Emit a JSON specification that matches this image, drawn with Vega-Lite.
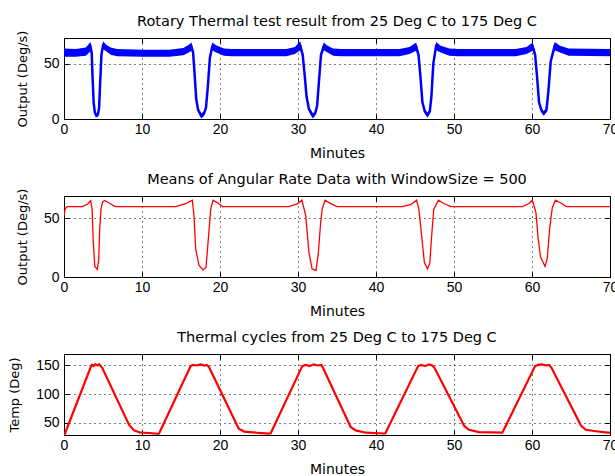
{
  "$schema": "https://vega.github.io/schema/vega-lite/v6.json",
  "background": "white",
  "padding": {"left": 8, "top": 13, "right": 0, "bottom": 0},
  "spacing": 77,
  "bounds": "flush",
  "datasets": {
    "rate": [
      {"t": 0, "v": 60, "lo": 56, "hi": 63.5},
      {"t": 1.5, "v": 60, "lo": 56, "hi": 63},
      {"t": 2.8, "v": 61, "lo": 57, "hi": 64.5},
      {"t": 3.4, "v": 65, "lo": 61, "hi": 69.5},
      {"t": 3.55, "v": 60, "lo": 57, "hi": 63},
      {"t": 3.65, "v": 40, "lo": 38, "hi": 42},
      {"t": 3.8, "v": 15, "lo": 13, "hi": 17},
      {"t": 3.95, "v": 6, "lo": 4, "hi": 8},
      {"t": 4.15, "v": 3, "lo": 1.5, "hi": 5},
      {"t": 4.35, "v": 4, "lo": 2, "hi": 6},
      {"t": 4.5, "v": 10, "lo": 8, "hi": 12},
      {"t": 4.65, "v": 35, "lo": 33, "hi": 37},
      {"t": 4.8, "v": 58, "lo": 56, "hi": 60},
      {"t": 5.0, "v": 66, "lo": 63, "hi": 70},
      {"t": 5.4, "v": 64, "lo": 61, "hi": 67},
      {"t": 6.0, "v": 61, "lo": 58, "hi": 64.5},
      {"t": 6.8, "v": 60, "lo": 56.5, "hi": 63},
      {"t": 10, "v": 59.5, "lo": 56, "hi": 62.5},
      {"t": 13.5, "v": 59.5, "lo": 56, "hi": 62.5},
      {"t": 15.3, "v": 61, "lo": 57.5, "hi": 64},
      {"t": 16.0, "v": 63.5, "lo": 60, "hi": 67},
      {"t": 16.35, "v": 65, "lo": 61.5, "hi": 69},
      {"t": 16.55, "v": 60, "lo": 57, "hi": 62},
      {"t": 16.75, "v": 40, "lo": 38, "hi": 42},
      {"t": 16.95, "v": 18, "lo": 16, "hi": 20},
      {"t": 17.2, "v": 8, "lo": 6, "hi": 10},
      {"t": 17.6, "v": 3, "lo": 0.5, "hi": 5},
      {"t": 17.95, "v": 5, "lo": 3, "hi": 7},
      {"t": 18.2, "v": 10, "lo": 8, "hi": 12},
      {"t": 18.45, "v": 30, "lo": 28, "hi": 32},
      {"t": 18.7, "v": 55, "lo": 53, "hi": 57},
      {"t": 19.0, "v": 65, "lo": 62, "hi": 69},
      {"t": 19.5, "v": 63.5, "lo": 60, "hi": 66.5},
      {"t": 20.5, "v": 60.5, "lo": 57, "hi": 63.5},
      {"t": 21.5, "v": 60, "lo": 56.5, "hi": 63},
      {"t": 28.5, "v": 60, "lo": 56.5, "hi": 63},
      {"t": 29.6, "v": 62, "lo": 58.5, "hi": 65},
      {"t": 30.3, "v": 65.5, "lo": 62, "hi": 70},
      {"t": 30.6, "v": 58, "lo": 55, "hi": 61},
      {"t": 30.85, "v": 40, "lo": 38, "hi": 42},
      {"t": 31.1, "v": 20, "lo": 18, "hi": 22},
      {"t": 31.4, "v": 9, "lo": 7, "hi": 11},
      {"t": 31.9, "v": 3, "lo": 0.5, "hi": 5},
      {"t": 32.2, "v": 5, "lo": 3, "hi": 7},
      {"t": 32.45, "v": 12, "lo": 10, "hi": 14},
      {"t": 32.7, "v": 35, "lo": 33, "hi": 37},
      {"t": 32.95, "v": 58, "lo": 56, "hi": 60},
      {"t": 33.3, "v": 65.5, "lo": 62, "hi": 69},
      {"t": 33.8, "v": 63, "lo": 60, "hi": 66},
      {"t": 34.5, "v": 60.5, "lo": 57, "hi": 63.5},
      {"t": 35.5, "v": 60, "lo": 56.5, "hi": 63},
      {"t": 43, "v": 60, "lo": 56.5, "hi": 63},
      {"t": 44.3, "v": 62, "lo": 58.5, "hi": 65},
      {"t": 45.15, "v": 65, "lo": 61.5, "hi": 69},
      {"t": 45.45, "v": 58, "lo": 55, "hi": 61},
      {"t": 45.7, "v": 38, "lo": 36, "hi": 40},
      {"t": 45.95, "v": 15, "lo": 13, "hi": 17},
      {"t": 46.25, "v": 7, "lo": 5, "hi": 9},
      {"t": 46.6, "v": 3.5, "lo": 1.5, "hi": 5.5},
      {"t": 46.9, "v": 7, "lo": 5, "hi": 9},
      {"t": 47.1, "v": 20, "lo": 18, "hi": 22},
      {"t": 47.35, "v": 50, "lo": 48, "hi": 52},
      {"t": 47.7, "v": 65.5, "lo": 62, "hi": 69.5},
      {"t": 48.3, "v": 63, "lo": 60, "hi": 66},
      {"t": 49.4, "v": 60.5, "lo": 57, "hi": 63.5},
      {"t": 50.5, "v": 60, "lo": 56.5, "hi": 63},
      {"t": 57.9, "v": 60, "lo": 56.5, "hi": 63},
      {"t": 59.3, "v": 62, "lo": 58.5, "hi": 65},
      {"t": 60.1, "v": 65, "lo": 61.5, "hi": 69},
      {"t": 60.4, "v": 58, "lo": 55, "hi": 61},
      {"t": 60.65, "v": 38, "lo": 36, "hi": 40},
      {"t": 60.9, "v": 15, "lo": 13, "hi": 17},
      {"t": 61.2, "v": 8, "lo": 6, "hi": 10},
      {"t": 61.5, "v": 5, "lo": 3, "hi": 7},
      {"t": 61.85, "v": 8, "lo": 6, "hi": 10},
      {"t": 62.1, "v": 25, "lo": 23, "hi": 27},
      {"t": 62.4, "v": 52, "lo": 50, "hi": 54},
      {"t": 62.9, "v": 65.5, "lo": 62, "hi": 69.5},
      {"t": 63.6, "v": 63, "lo": 60, "hi": 66},
      {"t": 64.7, "v": 60.5, "lo": 57, "hi": 63.5},
      {"t": 70, "v": 60, "lo": 56.5, "hi": 63}
    ],
    "means": [
      {"t": 0, "v": 52}, {"t": 0.15, "v": 58}, {"t": 0.43, "v": 60}, {"t": 2.35, "v": 60},
      {"t": 3.0, "v": 62}, {"t": 3.42, "v": 65}, {"t": 3.6, "v": 58}, {"t": 3.75, "v": 30},
      {"t": 3.95, "v": 9}, {"t": 4.27, "v": 6.5}, {"t": 4.45, "v": 15}, {"t": 4.57, "v": 40},
      {"t": 4.75, "v": 58}, {"t": 4.95, "v": 64}, {"t": 5.2, "v": 65.2}, {"t": 5.77, "v": 63},
      {"t": 6.6, "v": 60}, {"t": 14.3, "v": 60}, {"t": 15.6, "v": 62.5}, {"t": 16.45, "v": 65.4},
      {"t": 16.67, "v": 52}, {"t": 16.88, "v": 24}, {"t": 17.3, "v": 10}, {"t": 17.8, "v": 6},
      {"t": 18.2, "v": 8}, {"t": 18.5, "v": 32}, {"t": 18.8, "v": 57.5}, {"t": 19.1, "v": 65.4},
      {"t": 19.7, "v": 63.2}, {"t": 20.3, "v": 60}, {"t": 28.8, "v": 60}, {"t": 29.9, "v": 62.3},
      {"t": 30.5, "v": 65.4}, {"t": 31.0, "v": 52}, {"t": 31.4, "v": 21}, {"t": 31.8, "v": 7},
      {"t": 32.3, "v": 5.5}, {"t": 32.6, "v": 20}, {"t": 32.9, "v": 46}, {"t": 33.1, "v": 58},
      {"t": 33.46, "v": 65.4}, {"t": 34.2, "v": 62.5}, {"t": 35.0, "v": 60}, {"t": 43.4, "v": 60},
      {"t": 44.5, "v": 61.8}, {"t": 45.2, "v": 65.4}, {"t": 45.5, "v": 57.6}, {"t": 45.9, "v": 32},
      {"t": 46.2, "v": 12.6}, {"t": 46.6, "v": 7}, {"t": 46.9, "v": 12}, {"t": 47.1, "v": 32},
      {"t": 47.4, "v": 57.6}, {"t": 48.0, "v": 65.4}, {"t": 48.7, "v": 62.6}, {"t": 49.6, "v": 60},
      {"t": 58.8, "v": 60}, {"t": 59.6, "v": 62.6}, {"t": 60.05, "v": 65.4}, {"t": 60.5, "v": 55},
      {"t": 60.8, "v": 32}, {"t": 61.1, "v": 17}, {"t": 61.67, "v": 9}, {"t": 61.96, "v": 16},
      {"t": 62.26, "v": 41}, {"t": 62.6, "v": 59}, {"t": 63.0, "v": 65.4}, {"t": 63.7, "v": 63},
      {"t": 64.4, "v": 60}, {"t": 70, "v": 60}
    ],
    "temp": [
      {"t": 0, "v": 27}, {"t": 3.45, "v": 148}, {"t": 3.6, "v": 151}, {"t": 3.8, "v": 149},
      {"t": 4.0, "v": 152}, {"t": 4.3, "v": 150}, {"t": 4.5, "v": 152}, {"t": 4.7, "v": 149},
      {"t": 4.9, "v": 146}, {"t": 8.33, "v": 47}, {"t": 8.97, "v": 37}, {"t": 9.8, "v": 33},
      {"t": 10.9, "v": 32.5}, {"t": 12.1, "v": 31}, {"t": 12.2, "v": 32},
      {"t": 16.24, "v": 149}, {"t": 16.5, "v": 151}, {"t": 17, "v": 150}, {"t": 17.5, "v": 152},
      {"t": 18, "v": 150}, {"t": 18.3, "v": 151}, {"t": 18.6, "v": 147},
      {"t": 22.4, "v": 40}, {"t": 23.1, "v": 35}, {"t": 24.6, "v": 33}, {"t": 26.2, "v": 31.5},
      {"t": 26.5, "v": 32}, {"t": 30.55, "v": 149}, {"t": 31, "v": 151}, {"t": 31.5, "v": 149},
      {"t": 32, "v": 152}, {"t": 32.5, "v": 150}, {"t": 33, "v": 151}, {"t": 33.2, "v": 146},
      {"t": 36.75, "v": 43}, {"t": 37.4, "v": 37}, {"t": 38.7, "v": 33}, {"t": 41.0, "v": 31.6},
      {"t": 41.2, "v": 32}, {"t": 45.4, "v": 149}, {"t": 45.8, "v": 151}, {"t": 46.3, "v": 149},
      {"t": 46.8, "v": 152}, {"t": 47.2, "v": 150}, {"t": 47.5, "v": 146},
      {"t": 51.3, "v": 45}, {"t": 51.9, "v": 38}, {"t": 53.2, "v": 34}, {"t": 56.2, "v": 33},
      {"t": 60.4, "v": 149}, {"t": 60.8, "v": 151}, {"t": 61.3, "v": 152}, {"t": 61.8, "v": 150},
      {"t": 62.2, "v": 151}, {"t": 62.5, "v": 146}, {"t": 66.3, "v": 45}, {"t": 66.9, "v": 38},
      {"t": 68.2, "v": 35.5}, {"t": 69.7, "v": 33}, {"t": 70, "v": 33}
    ]
  },
  "vconcat": [
    {
      "width": 546, "height": 81,
      "title": {"text": "Rotary Thermal test result from 25 Deg C to 175 Deg C", "offset": 0.5},
      "data": {"name": "rate"},
      "resolve": {"axis": {"x": "independent", "y": "independent"}},
      "layer": [
        {
          "mark": {"type": "area", "color": "#0000FF", "clip": true},
          "encoding": {
            "x": {"field": "t", "type": "quantitative", "scale": {"domain": [0, 70], "nice": false, "zero": false}, "axis": {"title": "Minutes", "values": [0, 10, 20, 30, 40, 50, 60, 70]}},
            "y": {"field": "lo", "type": "quantitative", "scale": {"domain": [0, 73], "nice": false}, "axis": {"title": "Output (Deg/s)", "values": [0, 50]}},
            "y2": {"field": "hi"}
          }
        },
        {
          "mark": {"type": "line", "color": "#0000FF", "strokeWidth": 2.5, "clip": true},
          "encoding": {
            "x": {"field": "t", "type": "quantitative", "axis": null},
            "y": {"field": "v", "type": "quantitative", "axis": null}
          }
        },
        {
          "mark": {"type": "line", "opacity": 0},
          "encoding": {
            "x": {"field": "t", "type": "quantitative", "axis": {"orient": "top", "labels": false, "grid": false, "title": null, "values": [0, 10, 20, 30, 40, 50, 60, 70]}},
            "y": {"field": "v", "type": "quantitative", "axis": {"orient": "right", "labels": false, "grid": false, "title": null, "values": [0, 50]}}
          }
        }
      ]
    },
    {
      "width": 546, "height": 81,
      "title": {"text": "Means of Angular Rate Data with WindowSize = 500", "offset": 0.5},
      "data": {"name": "means"},
      "resolve": {"axis": {"x": "independent", "y": "independent"}},
      "layer": [
        {
          "mark": {"type": "line", "color": "#FF0000", "strokeWidth": 1.3, "clip": true},
          "encoding": {
            "x": {"field": "t", "type": "quantitative", "scale": {"domain": [0, 70], "nice": false, "zero": false}, "axis": {"title": "Minutes", "values": [0, 10, 20, 30, 40, 50, 60, 70]}},
            "y": {"field": "v", "type": "quantitative", "scale": {"domain": [0, 69], "nice": false}, "axis": {"title": "Output (Deg/s)", "values": [0, 50]}}
          }
        },
        {
          "mark": {"type": "line", "opacity": 0},
          "encoding": {
            "x": {"field": "t", "type": "quantitative", "axis": {"orient": "top", "labels": false, "grid": false, "title": null, "values": [0, 10, 20, 30, 40, 50, 60, 70]}},
            "y": {"field": "v", "type": "quantitative", "axis": {"orient": "right", "labels": false, "grid": false, "title": null, "values": [0, 50]}}
          }
        }
      ]
    },
    {
      "width": 546, "height": 81,
      "title": {"text": "Thermal cycles from 25 Deg C to 175 Deg C", "offset": 8.5},
      "data": {"name": "temp"},
      "resolve": {"axis": {"x": "independent", "y": "independent"}},
      "layer": [
        {
          "mark": {"type": "line", "color": "#FF0000", "strokeWidth": 2.2, "clip": true},
          "encoding": {
            "x": {"field": "t", "type": "quantitative", "scale": {"domain": [0, 70], "nice": false, "zero": false}, "axis": {"title": "Minutes", "values": [0, 10, 20, 30, 40, 50, 60, 70]}},
            "y": {"field": "v", "type": "quantitative", "scale": {"domain": [29, 170], "nice": false, "zero": false}, "axis": {"title": "Temp (Deg)", "values": [50, 100, 150]}}
          }
        },
        {
          "mark": {"type": "line", "opacity": 0, "clip": true},
          "encoding": {
            "x": {"field": "t", "type": "quantitative", "axis": {"orient": "top", "labels": false, "grid": false, "title": null, "values": [0, 10, 20, 30, 40, 50, 60, 70]}},
            "y": {"field": "v", "type": "quantitative", "axis": {"orient": "right", "labels": false, "grid": false, "title": null, "values": [50, 100, 150]}}
          }
        }
      ]
    }
  ],
  "config": {
    "font": "Liberation Sans",
    "view": {"stroke": "black", "strokeWidth": 1},
    "axis": {
      "domain": false,
      "grid": true,
      "gridColor": "black",
      "gridDash": [1, 4],
      "gridOpacity": 1,
      "gridWidth": 1,
      "ticks": true,
      "tickColor": "black",
      "tickSize": -5,
      "tickWidth": 1,
      "labelColor": "black",
      "labelFont": "Liberation Sans",
      "labelFontSize": 14,
      "labelFlush": false,
      "labelOverlap": false,
      "titleFont": "DejaVu Sans",
      "titleFontWeight": "normal",
      "titleColor": "black"
    },
    "axisX": {"labelPadding": 8, "titlePadding": 10, "titleFontSize": 14},
    "axisY": {"labelPadding": 10, "titlePadding": 14, "titleFontSize": 13},
    "title": {"font": "DejaVu Sans", "fontSize": 14.5, "fontWeight": "normal", "color": "black"}
  }
}
